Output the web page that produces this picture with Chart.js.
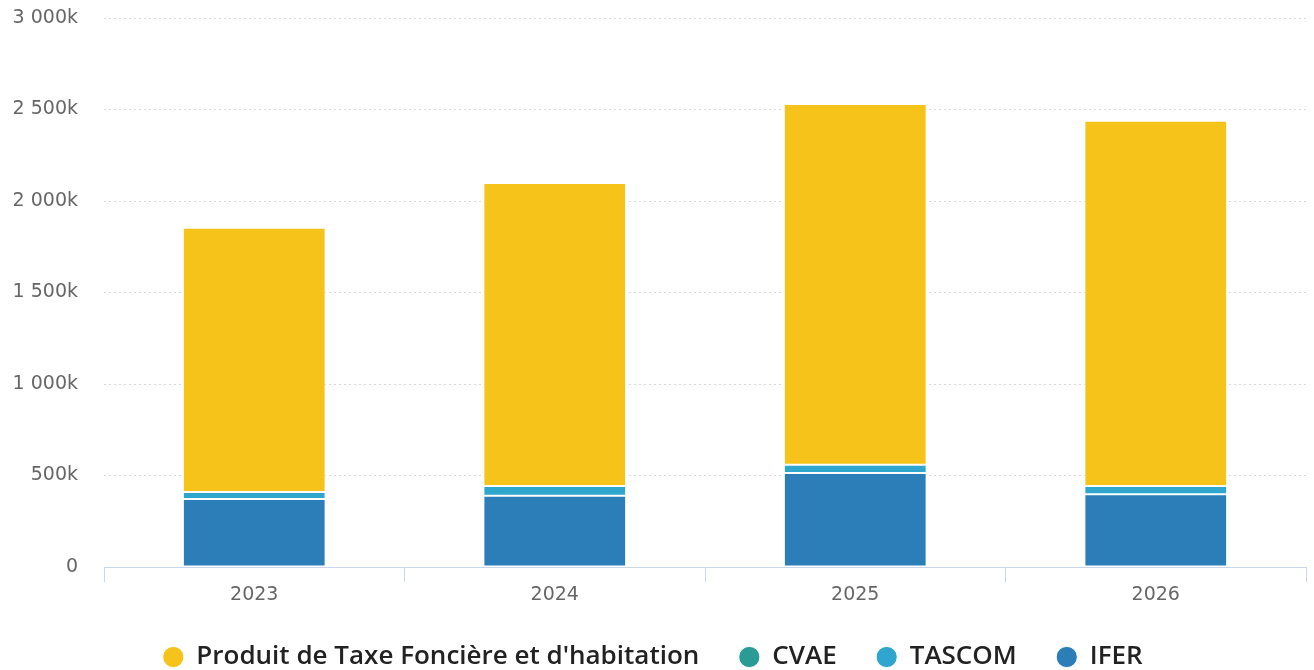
<!DOCTYPE html>
<html lang="fr">
<head>
<meta charset="utf-8">
<title>Produits fiscaux 2023–2026</title>
<script src="https://cdn.jsdelivr.net/npm/chart.js@4.4.1/dist/chart.umd.min.js"></script>
<style>
  html, body { margin: 0; padding: 0; background: #ffffff; }
  #wrap { width: 1314px; height: 670px; position: relative; }
</style>
</head>
<body>
<div id="wrap"><canvas id="chart"></canvas></div>
<script>
// Years on the x axis
const years = ['2023', '2024', '2025', '2026'];

// Amounts in thousands of euros (k€)
const ifer = [371, 389, 514, 398];
const tascom = [39, 53, 45, 45];
const cvae = [0, 0, 0, 0];
const taxeFonciere = [1444, 1657, 1971, 1995];

// Y axis ticks (k€)
const yTicks = [0, 500, 1000, 1500, 2000, 2500, 3000];

const colors = {
  taxe: '#f6c31b',
  cvae: '#2b9b96',
  tascom: '#2ea6cd',
  ifer: '#2b7eb8'
};

function formatK(v) {
  if (v === 0) return '0';
  return String(v).replace(/\B(?=(\d{3})+(?!\d))/g, ' ') + 'k';
}

const barStyle = {
  borderColor: '#ffffff',
  borderWidth: 1,
  borderSkipped: false,
  barPercentage: 0.475,
  categoryPercentage: 1.0
};

const tickFont = { family: "'DejaVu Sans', sans-serif", size: 19 };

// Keeps the legend strip compact while its items stay widely spaced
const compactLegend = {
  id: 'compactLegend',
  afterInit(chart) {
    const legend = chart.legend;
    if (!legend) return;
    const fit = legend.fit.bind(legend);
    legend.fit = function () {
      fit();
      this.height = 66;
    };
  }
};

new Chart(document.getElementById('chart'), {
  type: 'bar',
  data: {
    labels: years,
    datasets: [
      Object.assign({ label: 'IFER', data: ifer, backgroundColor: colors.ifer }, barStyle),
      Object.assign({ label: 'TASCOM', data: tascom, backgroundColor: colors.tascom }, barStyle),
      Object.assign({ label: 'CVAE', data: cvae, backgroundColor: colors.cvae }, barStyle),
      Object.assign({ label: "Produit de Taxe Foncière et d'habitation", data: taxeFonciere, backgroundColor: colors.taxe }, barStyle)
    ]
  },
  options: {
    responsive: true,
    maintainAspectRatio: false,
    animation: false,
    layout: { padding: { top: 18, right: 8, left: 0, bottom: 0 } },
    plugins: {
      tooltip: { enabled: false },
      legend: {
        position: 'bottom',
        reverse: true,
        labels: {
          usePointStyle: true,
          pointStyle: 'circle',
          boxWidth: 20,
          boxHeight: 15,
          padding: 40,
          color: '#222222',
          font: { family: "'Open Sans', 'Noto Sans', sans-serif", size: 26, weight: '600' }
        }
      }
    },
    scales: {
      x: {
        stacked: true,
        offset: true,
        afterFit: (scale) => { scale.height = 37; },
        border: { display: true, color: '#ccd6eb', width: 1 },
        grid: {
          offset: true,
          drawOnChartArea: false,
          drawTicks: true,
          tickLength: 15,
          color: '#ccd6eb'
        },
        ticks: {
          color: '#666666',
          padding: 2,
          font: tickFont
        }
      },
      y: {
        stacked: true,
        min: 0,
        max: 3000,
        afterBuildTicks: (scale) => { scale.ticks = yTicks.map(v => ({ value: v })); },
        afterFit: (scale) => {
          scale.width = 104;
          scale.paddingTop = 0;
          scale.paddingBottom = 0;
        },
        border: { display: false, dash: [2, 3] },
        grid: {
          drawTicks: false,
          color: '#d9d9d9',
          lineWidth: 1
        },
        ticks: {
          color: '#666666',
          padding: 26,
          callback: (v) => formatK(v),
          font: tickFont
        }
      }
    }
  },
  plugins: [compactLegend]
});
</script>
</body>
</html>
